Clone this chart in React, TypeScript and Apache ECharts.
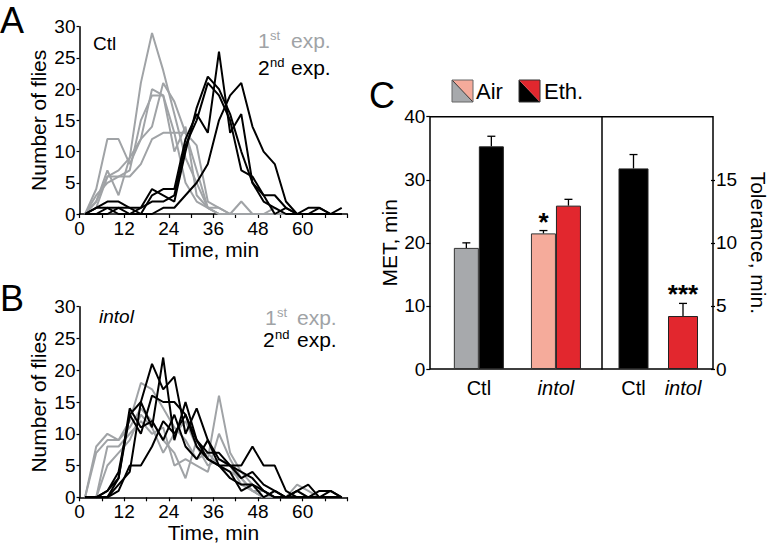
import React, { useEffect, useRef } from 'react';
import * as echarts from 'echarts';

// ---- Panel A / B : emergence histograms (time bins, minutes) ----
const times = [1.5, 4.5, 7.5, 10.5, 13.5, 16.5, 19.5, 22.5, 25.5, 28.5, 31.5, 34.5, 37.5, 40.5, 43.5, 46.5, 49.5, 52.5, 55.5, 58.5, 61.5, 64.5, 67.5, 70.5];

const ctlFirstExp = [
  [0, 4, 12, 12, 8, 12, 14, 21, 18, 13, 11, 2, 1, 0, 0, 0, 0, 0, 0, 0, 0, 0, 0, 0],
  [0, 2, 7, 3, 9, 21, 29, 23, 16, 9, 5, 1, 0, 0, 0, 0, 0, 0, 0, 0, 0, 0, 0, 0],
  [0, 1, 6, 6, 7, 15, 19, 19, 10, 14, 3, 1, 0, 0, 2, 0, 0, 1, 0, 0, 0, 0, 0, 0],
  [0, 3, 5, 6, 6, 8, 12, 13, 13, 13, 7, 1, 1, 0, 0, 0, 0, 0, 0, 0, 0, 0, 0, 0],
  [0, 2, 6, 7, 9, 12, 20, 19, 13, 5, 2, 1, 0, 0, 0, 0, 0, 0, 0, 0, 0, 0, 0, 0],
];
const ctlSecondExp = [
  [0, 1, 2, 2, 1, 1, 4, 3, 2, 10, 17, 22, 20, 16, 10, 5, 2, 1, 0, 0, 0, 0, 0, 0],
  [0, 0, 1, 1, 0, 0, 3, 4, 4, 12, 16, 13, 26, 13, 16, 5, 3, 0, 1, 0, 1, 1, 0, 1],
  [0, 1, 1, 0, 0, 1, 2, 2, 3, 11, 15, 21, 19, 15, 7, 6, 3, 3, 1, 0, 0, 1, 0, 0],
  [0, 0, 0, 1, 1, 0, 0, 1, 1, 3, 5, 8, 15, 19, 21, 14, 10, 8, 2, 0, 0, 0, 0, 0],
];
const intolFirstExp = [
  [0, 8, 10, 9, 12, 18, 17, 14, 11, 9, 6, 7, 5, 4, 3, 1, 0, 0, 0, 0, 0, 0, 0, 0],
  [0, 7, 9, 9, 11, 14, 12, 9, 7, 3, 9, 6, 16, 7, 4, 2, 1, 0, 0, 1, 0, 0, 0, 0],
  [0, 0, 8, 8, 10, 12, 10, 11, 5, 6, 5, 4, 10, 6, 3, 1, 0, 1, 0, 0, 0, 0, 0, 0],
  [0, 0, 5, 7, 9, 13, 11, 7, 10, 12, 8, 5, 6, 5, 2, 1, 1, 0, 0, 2, 1, 0, 0, 0],
];
const intolSecondExp = [
  [0, 0, 0, 1, 5, 5, 8, 12, 10, 13, 9, 6, 5, 5, 5, 8, 5, 5, 1, 0, 0, 0, 0, 0],
  [0, 0, 1, 4, 13, 15, 21, 17, 19, 10, 14, 9, 6, 5, 3, 4, 2, 1, 0, 0, 0, 0, 0, 0],
  [0, 0, 0, 2, 4, 15, 11, 22, 9, 15, 9, 7, 7, 5, 4, 3, 1, 0, 0, 1, 2, 0, 1, 0],
  [0, 0, 1, 3, 13, 10, 16, 15, 15, 13, 8, 6, 5, 3, 2, 2, 1, 0, 0, 1, 0, 0, 0, 0],
  [0, 0, 0, 3, 14, 11, 12, 9, 13, 8, 6, 9, 5, 4, 1, 2, 0, 1, 0, 0, 0, 1, 1, 0],
];
const timeLabels = [0, 12, 24, 36, 48, 60];

// ---- Panel C ----
const metCategories = ['Ctl', 'intol'];
const metAir = [19.2, 21.5];
const metAirErr = [0.8, 0.45];
const metEth = [35.3, 25.9];
const metEthErr = [1.6, 1.0];
const metAirSig = ['', '*'];
const metEthSig = ['', ''];
const tolCategories = ['Ctl', 'intol'];
const tolerance = [15.9, 4.2];
const toleranceErr = [1.1, 1.0];
const tolSig = ['', '***'];

const FONT = '"Liberation Sans", Arial, Helvetica, sans-serif';
const GRAY_LINE = '#a0a3a6';
const AIR_COLORS = ['#a7a9ac', '#f5ab9b'];
const ETH_COLORS = ['#000000', '#e2272e'];
const TOL_COLORS = ['#000000', '#e2272e'];

function lineSeries(sets: number[][], color: string, xi: number) {
  return sets.map((vals) => ({
    type: 'line',
    xAxisIndex: xi,
    yAxisIndex: xi,
    data: times.map((t, i) => [t, vals[i]]),
    showSymbol: false,
    silent: true,
    lineStyle: { color, width: 2 },
    z: color === '#000' ? 3 : 2,
  }));
}

function errSeries(xi: number, yi: number, vals: number[], errs: number[], sig: string[], offset: number) {
  return {
    type: 'custom',
    xAxisIndex: xi,
    yAxisIndex: yi,
    silent: true,
    z: 5,
    data: vals.map((v, i) => [i, v, errs[i]]),
    renderItem: (params: any, api: any) => {
      const idx = api.value(0);
      const v = api.value(1);
      const e = api.value(2);
      const base = api.coord([idx, v]);
      const top = api.coord([idx, v + e]);
      const x = base[0] + offset;
      const children: any[] = [
        { type: 'line', shape: { x1: x, y1: base[1], x2: x, y2: top[1] }, style: { stroke: '#000', lineWidth: 1.3 } },
        { type: 'line', shape: { x1: x - 4, y1: top[1], x2: x + 4, y2: top[1] }, style: { stroke: '#000', lineWidth: 1.3 } },
      ];
      const s = sig[params.dataIndex];
      if (s) {
        children.push({
          type: 'text',
          x,
          y: top[1] - 9,
          style: { text: s, fontSize: 26, fontWeight: 'bold', fontFamily: FONT, fill: '#000', align: 'center', verticalAlign: 'middle' },
        });
      }
      return { type: 'group', children };
    },
  };
}

function txt(x: number, y: number, text: string, size: number, color = '#000', extra: any = {}) {
  return {
    type: 'text',
    x,
    y,
    silent: true,
    style: { text, fontSize: size, fontFamily: FONT, fill: color, align: 'left', verticalAlign: 'middle', ...extra },
  };
}

export default function App() {
  const ref = useRef<HTMLDivElement>(null);
  useEffect(() => {
    if (!ref.current) return;
    const chart = echarts.init(ref.current, undefined, { renderer: 'svg' });

    const timeAxis = (gi: number) => ({
      type: 'value',
      gridIndex: gi,
      min: 0,
      max: 72,
      interval: 6,
      name: 'Time, min',
      nameLocation: 'middle',
      nameGap: 25,
      nameMoveOverlap: false,
      nameTextStyle: { fontSize: 21, fontFamily: FONT, color: '#000' },
      axisLine: { lineStyle: { color: '#000', width: 1.5 } },
      axisTick: { length: 4, lineStyle: { color: '#000', width: 1.2 } },
      axisLabel: {
        fontSize: 19,
        fontFamily: FONT,
        color: '#000',
        margin: 5,
        formatter: (v: number) => (timeLabels.includes(v) ? String(v) : ''),
      },
      splitLine: { show: false },
    });
    const fliesAxis = (gi: number) => ({
      type: 'value',
      gridIndex: gi,
      min: 0,
      max: 30,
      interval: 5,
      name: 'Number of flies',
      nameLocation: 'middle',
      nameGap: 31,
      nameTextStyle: { fontSize: 21, fontFamily: FONT, color: '#000' },
      axisLine: { show: true, lineStyle: { color: '#000', width: 1.5 } },
      axisTick: { show: true, length: 3, lineStyle: { color: '#000', width: 1.2 } },
      axisLabel: { fontSize: 19, fontFamily: FONT, color: '#000', margin: 4 },
      splitLine: { show: false },
    });

    const catLabel = {
      interval: 0,
      fontSize: 20,
      fontFamily: FONT,
      color: '#000',
      margin: 9,
      formatter: (v: string) => (v === 'intol' ? '{i|intol}' : '{n|' + v + '}'),
      rich: {
        i: { fontSize: 20, fontFamily: FONT, fontStyle: 'italic', color: '#000' },
        n: { fontSize: 20, fontFamily: FONT, color: '#000' },
      },
    };

    const option: any = {
      animation: false,
      backgroundColor: '#fff',
      grid: [
        { left: 79.5, top: 26.7, width: 267.8, height: 187.3 },
        { left: 79.5, top: 306.7, width: 267.8, height: 190.6 },
        { left: 440.3, top: 116.7, width: 154.2, height: 252.3 },
        { left: 608.75, top: 116.7, width: 101, height: 252.3 },
        { left: 430, top: 116.7, width: 283, height: 252.3, show: true, borderColor: '#000', borderWidth: 1.5, backgroundColor: 'transparent' },
      ],
      xAxis: [
        timeAxis(0),
        timeAxis(1),
        { type: 'category', gridIndex: 2, data: metCategories, axisLine: { show: false }, axisTick: { show: false }, axisLabel: catLabel },
        { type: 'category', gridIndex: 3, data: tolCategories, axisLine: { show: false }, axisTick: { show: false }, axisLabel: catLabel },
        { type: 'value', gridIndex: 4, show: false, min: 0, max: 1 },
      ],
      yAxis: [
        fliesAxis(0),
        fliesAxis(1),
        {
          type: 'value', gridIndex: 2, min: 0, max: 40, interval: 10, offset: 10,
          name: 'MET, min', nameLocation: 'middle', nameGap: 27,
          nameTextStyle: { fontSize: 21, fontFamily: FONT, color: '#000' },
          axisLine: { show: false },
          axisTick: { show: true, length: 4, lineStyle: { color: '#000', width: 1.2 } },
          axisLabel: { fontSize: 19, fontFamily: FONT, color: '#000', margin: 5 },
          splitLine: { show: false },
        },
        {
          type: 'value', gridIndex: 3, min: 0, max: 20, interval: 5, position: 'right', offset: 3.25,
          name: 'Tolerance, min.', nameLocation: 'middle', nameGap: 37, nameRotate: -90,
          nameTextStyle: { fontSize: 21, fontFamily: FONT, color: '#000' },
          axisLine: { show: false },
          axisTick: { show: true, length: 4, lineStyle: { color: '#000', width: 1.2 } },
          axisLabel: { fontSize: 19, fontFamily: FONT, color: '#000', margin: 5, showMaxLabel: false },
          splitLine: { show: false },
        },
        {
          type: 'value', gridIndex: 3, min: 0, max: 20, position: 'left', offset: 6.75,
          axisLine: { show: true, lineStyle: { color: '#000', width: 1.5 } },
          axisTick: { show: false }, axisLabel: { show: false }, splitLine: { show: false },
        },
        { type: 'value', gridIndex: 4, show: false, min: 0, max: 1 },
      ],
      series: [
        ...lineSeries(ctlFirstExp, GRAY_LINE, 0),
        ...lineSeries(ctlSecondExp, '#000', 0),
        ...lineSeries(intolFirstExp, GRAY_LINE, 1),
        ...lineSeries(intolSecondExp, '#000', 1),
        {
          type: 'bar', name: 'Air', xAxisIndex: 2, yAxisIndex: 2, barWidth: 25, barGap: '0%', silent: true,
          data: metAir.map((v, i) => ({ value: v, itemStyle: { color: AIR_COLORS[i], borderColor: '#333', borderWidth: 1 } })),
        },
        {
          type: 'bar', name: 'Eth.', xAxisIndex: 2, yAxisIndex: 2, barWidth: 25, barGap: '0%', silent: true,
          data: metEth.map((v, i) => ({ value: v, itemStyle: { color: ETH_COLORS[i], borderColor: '#222', borderWidth: 1 } })),
        },
        {
          type: 'bar', name: 'Tolerance', xAxisIndex: 3, yAxisIndex: 3, barWidth: 30, silent: true,
          data: tolerance.map((v, i) => ({ value: v, itemStyle: { color: TOL_COLORS[i], borderColor: '#222', borderWidth: 1 } })),
        },
        errSeries(2, 2, metAir, metAirErr, metAirSig, -12.5),
        errSeries(2, 2, metEth, metEthErr, metEthSig, 12.5),
        errSeries(3, 3, tolerance, toleranceErr, tolSig, 0),
      ],
      graphic: {
        elements: [
          txt(0, 20, 'A', 36),
          txt(0, 298, 'B', 36),
          txt(369, 95, 'C', 36),
          txt(93, 43, 'Ctl', 19),
          txt(99, 316, 'intol', 19, '#000', { fontStyle: 'italic' }),
          // panel A experiment labels
          txt(258, 40, '1', 21, GRAY_LINE),
          txt(270, 35, 'st', 13, GRAY_LINE),
          txt(291, 40, 'exp.', 21, GRAY_LINE),
          txt(258, 67, '2', 21, '#000'),
          txt(270, 62, 'nd', 13, '#000'),
          txt(291, 67, 'exp.', 21, '#000'),
          // panel B experiment labels
          txt(265, 317, '1', 21, GRAY_LINE),
          txt(277, 312, 'st', 13, GRAY_LINE),
          txt(297, 317, 'exp.', 21, GRAY_LINE),
          txt(263, 339, '2', 21, '#000'),
          txt(275, 334, 'nd', 13, '#000'),
          txt(297, 339, 'exp.', 21, '#000'),
          // legend C
          { type: 'polygon', silent: true, shape: { points: [[452, 80], [452, 102], [473, 102]] }, style: { fill: AIR_COLORS[0] } },
          { type: 'polygon', silent: true, shape: { points: [[452, 80], [473, 80], [473, 102]] }, style: { fill: AIR_COLORS[1] } },
          { type: 'line', silent: true, shape: { x1: 452, y1: 80, x2: 473, y2: 102 }, style: { stroke: '#333', lineWidth: 1 } },
          { type: 'rect', silent: true, shape: { x: 452, y: 80, width: 21, height: 22 }, style: { fill: 'none', stroke: '#666', lineWidth: 1 } },
          txt(476, 91, 'Air', 22),
          { type: 'polygon', silent: true, shape: { points: [[519, 80], [519, 102], [540, 102]] }, style: { fill: ETH_COLORS[0] } },
          { type: 'polygon', silent: true, shape: { points: [[519, 80], [540, 80], [540, 102]] }, style: { fill: ETH_COLORS[1] } },
          { type: 'rect', silent: true, shape: { x: 519, y: 80, width: 21, height: 22 }, style: { fill: 'none', stroke: '#333', lineWidth: 1 } },
          txt(544, 91, 'Eth.', 22),
        ],
      },
    };
    chart.setOption(option);
    return () => chart.dispose();
  }, []);
  return <div ref={ref} style={{ position: 'fixed', left: 0, top: 0, width: 770, height: 546, background: '#fff' }} />;
}
